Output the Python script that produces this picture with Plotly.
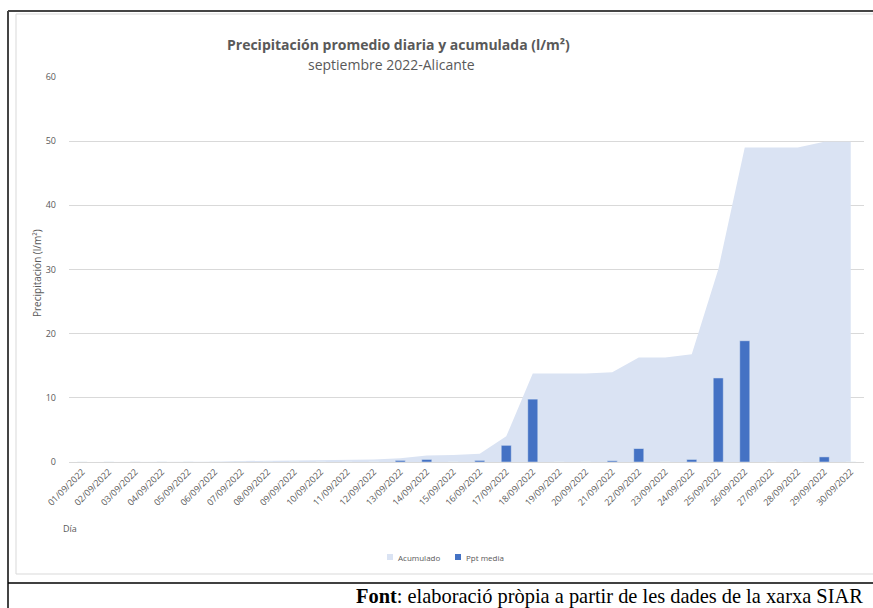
import plotly.graph_objects as go

dias = ["%02d/09/2022" % d for d in range(1, 31)]
acumulado = [0, 0, 0, 0, 0, 0.05, 0.15, 0.2, 0.25, 0.3, 0.35, 0.4, 0.6, 1.0, 1.1, 1.3,
             4.0, 13.8, 13.8, 13.8, 14.0, 16.3, 16.3, 16.8, 30.0, 49.0, 49.0, 49.0, 49.9, 49.9]
ppt_media = [0, 0, 0, 0, 0, 0, 0, 0, 0, 0, 0, 0, 0.25, 0.4, 0, 0.25,
             2.6, 9.8, 0, 0, 0.2, 2.1, 0, 0.4, 13.1, 18.9, 0, 0, 0.8, 0]

W, H = 873, 608
L, R, T, B = 69, 864, 77, 462
area_col = "#DAE3F3"
bar_col = "#4472C4"
grey = "#595959"


def px(x):
    return (x - L) / (R - L)


def py(y):
    return (B - y) / (B - T)


def texto(txt, x, y, size, xanchor="center", **kw):
    fig.add_annotation(text=txt, x=px(x), y=py(y), xref="paper", yref="paper",
                       xanchor=xanchor, yanchor="middle", showarrow=False,
                       font=dict(size=size, color=kw.pop("color", grey),
                                 family=kw.pop("family", "Open Sans, sans-serif")), **kw)


fig = go.Figure()
# area on the base axis, bars on an overlaid axis so they are drawn above it
fig.add_trace(go.Scatter(x=dias, y=acumulado, mode="lines", name="Acumulado",
                         line=dict(width=0, color=area_col), fill="tozeroy",
                         fillcolor=area_col))
fig.add_trace(go.Bar(x=dias, y=ppt_media, name="Ppt media", marker_color=bar_col,
                     width=0.38, yaxis="y2"))

fig.update_layout(
    width=W, height=H,
    margin=dict(l=L, r=W - R, t=T, b=H - B),
    paper_bgcolor="white", plot_bgcolor="white",
    font=dict(family="Open Sans, sans-serif", color=grey, size=9),
    showlegend=False,
    yaxis2=dict(overlaying="y", range=[0, 60], visible=False),
)
fig.update_xaxes(type="category", tickangle=-45, tickfont=dict(size=9, color=grey),
                 showgrid=False, showline=True, linecolor="#D9D9D9", linewidth=1,
                 ticks="", range=[-0.5, 29.5])
fig.update_layout(yaxis=dict(range=[0, 60], dtick=10, gridcolor="#D9D9D9", zeroline=False,
                             showline=False, tickfont=dict(size=9, color=grey), ticks="",
                             ticklabelstandoff=12))

# titles
texto("<b>Precipitación promedio diaria y acumulada (l/m²)</b>", 398, 44, 14)
texto("septiembre 2022-Alicante", 391, 64, 14)
texto("Precipitación (l/m²)", 37, 273, 10, textangle=-90)
texto("Día", 61, 528, 9, xanchor="left")
texto("<b>Font</b>: elaboració pròpia a partir de les dades de la xarxa SIAR", 354, 596, 20.4,
      xanchor="left", color="black", family="Liberation Serif, serif")

# legend, small squares as in the original
for nombre, col, x0 in [("Acumulado", area_col, 387), ("Ppt media", bar_col, 455)]:
    fig.add_shape(type="rect", xref="paper", yref="paper", x0=px(x0), x1=px(x0 + 6),
                  y0=py(554), y1=py(560), fillcolor=col, line=dict(width=0))
    texto(nombre, x0 + 9, 557, 8, xanchor="left")

# frames
fig.add_shape(type="rect", xref="paper", yref="paper", x0=px(16), x1=px(885),
              y0=py(14), y1=py(574), line=dict(color="#D9D9D9", width=1))
fig.add_shape(type="line", xref="paper", yref="paper", x0=px(8), x1=px(880),
              y0=py(11), y1=py(11), line=dict(color="#444444", width=2))
fig.add_shape(type="line", xref="paper", yref="paper", x0=px(8), x1=px(8),
              y0=py(11), y1=py(610), line=dict(color="#444444", width=2))
fig.add_shape(type="line", xref="paper", yref="paper", x0=px(8), x1=px(880),
              y0=py(583), y1=py(583), line=dict(color="black", width=1.5))

fig.write_html("out.html", config={"displayModeBar": False},
               post_script="document.body.style.margin='0';")
